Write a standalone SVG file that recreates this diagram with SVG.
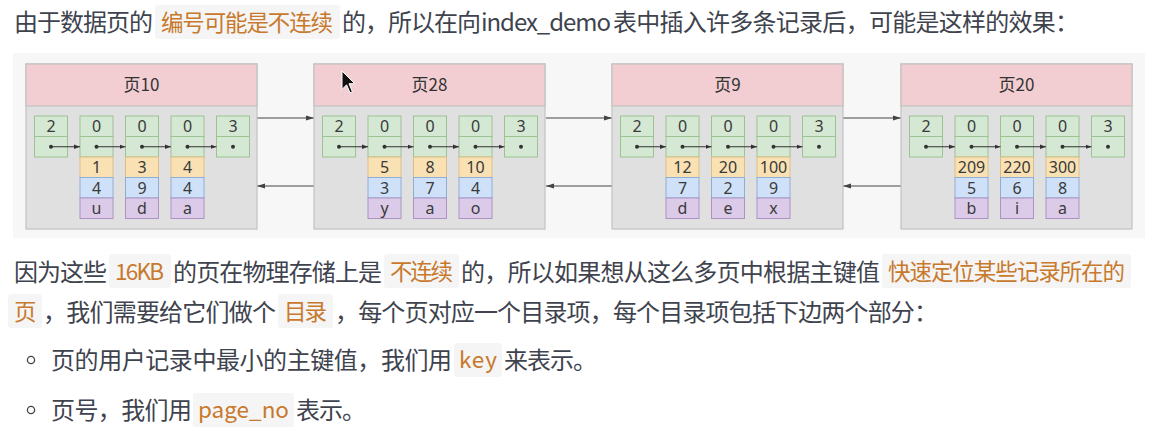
<svg xmlns="http://www.w3.org/2000/svg" width="1168" height="434" viewBox="0 0 1168 434">
<style>
.b{font-family:"Noto Sans CJK SC","Noto Sans",sans-serif;font-size:24px;fill:#3e434e}
.h{font-family:"Noto Sans CJK SC","Noto Sans",sans-serif;font-size:22.5px;fill:#c8792d}
.hb{fill:#f5f5f5}
.pb{fill:#e0e0e0;stroke:#c2c2c2;stroke-width:1.2}
.ph{fill:#f2ced2;stroke:#c2c2c2;stroke-width:1.2}
.g{fill:#d5e8d4;stroke:#9cc493}
.y{fill:#f9e1b4;stroke:#d9bf86}
.u{fill:#cfe1f8;stroke:#8faed6}
.p{fill:#dccbe8;stroke:#ac93c4}
.t{font-family:"Noto Sans CJK SC","Noto Sans",sans-serif;font-size:17px;fill:#333;text-anchor:middle}
.n{font-family:"Noto Sans","Noto Sans CJK SC",sans-serif;font-size:16px;fill:#3a3a3a;text-anchor:middle}
.ia{stroke:#333;stroke-width:1;fill:none}
.ca{stroke:#444;stroke-width:1.2;fill:none}
.bul{fill:none;stroke:#444;stroke-width:1.3}
</style>
<defs>
<marker id="ah" viewBox="0 0 6 6" refX="6" refY="3" markerWidth="6" markerHeight="6" markerUnits="userSpaceOnUse" orient="auto"><path d="M0,0.8 L6,3 L0,5.2 z" fill="#333"/></marker>
<marker id="ch" viewBox="0 0 8 6" refX="8" refY="3" markerWidth="8" markerHeight="6" markerUnits="userSpaceOnUse" orient="auto"><path d="M0,0.5 L8,3 L0,5.5 z" fill="#444"/></marker>
<g id="frame">
<rect x="0" y="64" width="231" height="165" class="pb"/>
<rect x="0" y="64" width="231" height="42" class="ph"/>
<rect x="8.5" y="116" width="33" height="20.5" class="g"/><rect x="8.5" y="136.5" width="33" height="20.5" class="g"/>
<rect x="54" y="116" width="33" height="20.5" class="g"/><rect x="54" y="136.5" width="33" height="20.5" class="g"/>
<rect x="99.5" y="116" width="33" height="20.5" class="g"/><rect x="99.5" y="136.5" width="33" height="20.5" class="g"/>
<rect x="145" y="116" width="33" height="20.5" class="g"/><rect x="145" y="136.5" width="33" height="20.5" class="g"/>
<rect x="190.5" y="116" width="33" height="20.5" class="g"/><rect x="190.5" y="136.5" width="33" height="20.5" class="g"/>
<rect x="54" y="157" width="33" height="20.5" class="y"/><rect x="99.5" y="157" width="33" height="20.5" class="y"/><rect x="145" y="157" width="33" height="20.5" class="y"/>
<rect x="54" y="177.5" width="33" height="20.5" class="u"/><rect x="99.5" y="177.5" width="33" height="20.5" class="u"/><rect x="145" y="177.5" width="33" height="20.5" class="u"/>
<rect x="54" y="198" width="33" height="20.5" class="p"/><rect x="99.5" y="198" width="33" height="20.5" class="p"/><rect x="145" y="198" width="33" height="20.5" class="p"/>
<g fill="#333"><circle cx="25" cy="146.75" r="2"/><circle cx="70.5" cy="146.75" r="2"/><circle cx="116" cy="146.75" r="2"/><circle cx="161.5" cy="146.75" r="2"/><circle cx="207" cy="146.75" r="2"/></g>
<line x1="25" y1="146.75" x2="54" y2="146.75" class="ia" marker-end="url(#ah)"/>
<line x1="70.5" y1="146.75" x2="99.5" y2="146.75" class="ia" marker-end="url(#ah)"/>
<line x1="116" y1="146.75" x2="145" y2="146.75" class="ia" marker-end="url(#ah)"/>
<line x1="161.5" y1="146.75" x2="190.5" y2="146.75" class="ia" marker-end="url(#ah)"/>
</g>
</defs>
<rect width="1168" height="434" fill="#ffffff"/>

<g id="text-top">
<text class="b" x="14" y="31" textLength="139">由于数据页的</text>
<rect class="hb" x="155" y="5" width="185" height="34" rx="3"/>
<text class="h" x="161" y="30.5" textLength="172">编号可能是不连续</text>
<text class="b" x="342" y="31" textLength="139">的，所以在向</text>
<text class="b" x="481" y="31" textLength="130">index_demo</text>
<text class="b" x="613" y="31" textLength="466">表中插入许多条记录后，可能是这样的效果：</text>
</g>

<rect id="panel" x="13" y="53" width="1132" height="185" fill="#f7f7f7"/>

<g id="connectors">
<line x1="257" y1="118" x2="314" y2="118" class="ca" marker-end="url(#ch)"/>
<line x1="546" y1="118" x2="612" y2="118" class="ca" marker-end="url(#ch)"/>
<line x1="843" y1="118" x2="901" y2="118" class="ca" marker-end="url(#ch)"/>
<line x1="314" y1="186" x2="257" y2="186" class="ca" marker-end="url(#ch)"/>
<line x1="612" y1="186" x2="546" y2="186" class="ca" marker-end="url(#ch)"/>
<line x1="901" y1="186" x2="843" y2="186" class="ca" marker-end="url(#ch)"/>
</g>

<g id="page10">
<use href="#frame" x="26"/>
<text class="t" x="141.5" y="91">页10</text>
<text class="n" x="51" y="132">2</text><text class="n" x="96.5" y="132">0</text><text class="n" x="142" y="132">0</text><text class="n" x="187.5" y="132">0</text><text class="n" x="233" y="132">3</text>
<text class="n" x="96.5" y="173">1</text><text class="n" x="142" y="173">3</text><text class="n" x="187.5" y="173">4</text>
<text class="n" x="96.5" y="193.5">4</text><text class="n" x="142" y="193.5">9</text><text class="n" x="187.5" y="193.5">4</text>
<text class="n" x="96.5" y="214">u</text><text class="n" x="142" y="214">d</text><text class="n" x="187.5" y="214">a</text>
</g>

<g id="page28">
<use href="#frame" x="314"/>
<text class="t" x="429.5" y="91">页28</text>
<text class="n" x="339" y="132">2</text><text class="n" x="384.5" y="132">0</text><text class="n" x="430" y="132">0</text><text class="n" x="475.5" y="132">0</text><text class="n" x="521" y="132">3</text>
<text class="n" x="384.5" y="173">5</text><text class="n" x="430" y="173">8</text><text class="n" x="475.5" y="173">10</text>
<text class="n" x="384.5" y="193.5">3</text><text class="n" x="430" y="193.5">7</text><text class="n" x="475.5" y="193.5">4</text>
<text class="n" x="384.5" y="214">y</text><text class="n" x="430" y="214">a</text><text class="n" x="475.5" y="214">o</text>
</g>

<g id="page9">
<use href="#frame" x="612"/>
<text class="t" x="727.5" y="91">页9</text>
<text class="n" x="637" y="132">2</text><text class="n" x="682.5" y="132">0</text><text class="n" x="728" y="132">0</text><text class="n" x="773.5" y="132">0</text><text class="n" x="819" y="132">3</text>
<text class="n" x="682.5" y="173">12</text><text class="n" x="728" y="173">20</text><text class="n" x="773.5" y="173">100</text>
<text class="n" x="682.5" y="193.5">7</text><text class="n" x="728" y="193.5">2</text><text class="n" x="773.5" y="193.5">9</text>
<text class="n" x="682.5" y="214">d</text><text class="n" x="728" y="214">e</text><text class="n" x="773.5" y="214">x</text>
</g>

<g id="page20">
<use href="#frame" x="901"/>
<text class="t" x="1016.5" y="91">页20</text>
<text class="n" x="926" y="132">2</text><text class="n" x="971.5" y="132">0</text><text class="n" x="1017" y="132">0</text><text class="n" x="1062.5" y="132">0</text><text class="n" x="1108" y="132">3</text>
<text class="n" x="971.5" y="173">209</text><text class="n" x="1017" y="173">220</text><text class="n" x="1062.5" y="173">300</text>
<text class="n" x="971.5" y="193.5">5</text><text class="n" x="1017" y="193.5">6</text><text class="n" x="1062.5" y="193.5">8</text>
<text class="n" x="971.5" y="214">b</text><text class="n" x="1017" y="214">i</text><text class="n" x="1062.5" y="214">a</text>
</g>

<g id="cursor">
<path d="M342,71 L342,89.4 L346.6,84.8 L350,92.8 L352.4,91.7 L349,83.7 L354.7,83.7 Z" fill="#111" stroke="#fff" stroke-width="1"/>
</g>

<g id="text-body">
<text class="b" x="14" y="280.5" textLength="93">因为这些</text>
<rect class="hb" x="109" y="254" width="62" height="34" rx="3"/>
<text class="h" x="115" y="280" textLength="49">16KB</text>
<text class="b" x="173" y="280.5" textLength="209">的页在物理存储上是</text>
<rect class="hb" x="384" y="254" width="75" height="34" rx="3"/>
<text class="h" x="390" y="280" textLength="63">不连续</text>
<text class="b" x="461" y="280.5" textLength="419">的，所以如果想从这么多页中根据主键值</text>
<rect class="hb" x="882" y="254" width="249" height="34" rx="3"/>
<text class="h" x="888" y="280" textLength="237">快速定位某些记录所在的</text>

<rect class="hb" x="8" y="294" width="34" height="34" rx="3"/>
<text class="h" x="14" y="320" textLength="22">页</text>
<text class="b" x="43" y="320.5" textLength="233">，我们需要给它们做个</text>
<rect class="hb" x="278" y="294" width="55" height="34" rx="3"/>
<text class="h" x="284" y="320" textLength="43">目录</text>
<text class="b" x="335" y="320.5" textLength="603">，每个页对应一个目录项，每个目录项包括下边两个部分：</text>
</g>

<g id="bullets">
<circle class="bul" cx="31" cy="360" r="3.6"/>
<text class="b" x="51" y="368.5" textLength="401">页的用户记录中最小的主键值，我们用</text>
<rect class="hb" x="454" y="343" width="48" height="34" rx="3"/>
<text class="h" x="459" y="368" textLength="38">key</text>
<text class="b" x="504" y="368.5" textLength="93">来表示。</text>
<circle class="bul" cx="31" cy="410" r="3.6"/>
<text class="b" x="51" y="418.5" textLength="141">页号，我们用</text>
<rect class="hb" x="193" y="393" width="101" height="34" rx="3"/>
<text class="h" x="198" y="418" textLength="91">page_no</text>
<text class="b" x="296" y="418.5" textLength="70">表示。</text>
</g>
</svg>
